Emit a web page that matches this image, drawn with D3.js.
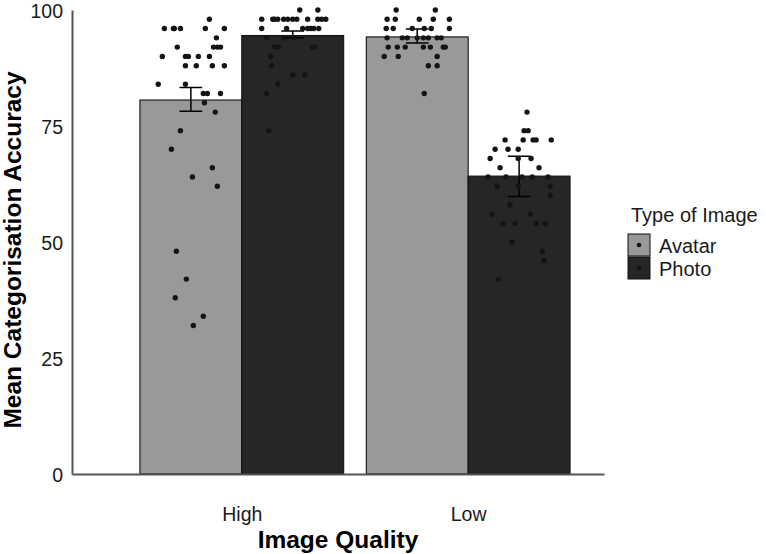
<!DOCTYPE html>
<html>
<head>
<meta charset="utf-8">
<script src="https://cdn.jsdelivr.net/npm/d3@7"></script>
<style>
  body { margin: 0; background: #fff; }
  text { font-family: "Liberation Sans", Arial, sans-serif; }
</style>
</head>
<body>
<div id="chart"></div>
<script>
// Categories
var qualities = ['High', 'Low'];
var imageTypes = ['Avatar', 'Photo'];

// Bar means and error bar limits, [quality][type]
var means = [[80.6, 94.5], [94.2, 64.2]];
var errLow = [[78.2, 94.0], [92.9, 59.8]];
var errHigh = [[83.3, 95.5], [95.9, 68.5]];

// Individual participant scores: [value, jitter offset in category units]
var highAvatar = [
  [98, 0.082], [96, -0.117], [96, -0.077], [96, -0.073], [96, -0.046], [96, 0.064], [96, 0.148],
  [94, 0.113], [92, -0.060], [92, 0.100], [92, 0.117], [92, 0.131],
  [90, -0.126], [90, -0.024], [90, -0.011], [90, 0.033], [90, 0.082],
  [88, -0.024], [88, 0.024], [88, 0.095], [88, 0.148],
  [84, -0.144], [84, -0.024], [82, 0.055], [82, 0.073], [82, 0.131],
  [80, 0.060], [78, 0.108], [74, -0.046], [70, -0.086], [66, 0.095], [64, 0.007], [62, 0.117],
  [48, -0.064], [42, -0.020], [38, -0.069], [34, 0.055], [32, 0.011]
];
var highPhoto = [
  [100, 0.031], [100, 0.111],
  [98, -0.137], [98, -0.088], [98, -0.080], [98, -0.066], [98, -0.040], [98, -0.022],
  [98, 0.000], [98, 0.018], [98, 0.066], [98, 0.111], [98, 0.128], [98, 0.146],
  [96, -0.137], [96, -0.027], [96, 0.044], [96, 0.066], [96, 0.080], [96, 0.093], [96, 0.115],
  [94, -0.115], [94, -0.040], [94, 0.004],
  [92, -0.080], [92, -0.062], [92, 0.088], [92, 0.097],
  [90, -0.097], [88, -0.093], [86, 0.000], [86, 0.053], [84, -0.066], [82, -0.115], [74, -0.106]
];
var lowAvatar = [
  [100, -0.093], [100, 0.080],
  [98, -0.133], [98, -0.097], [98, 0.009], [98, 0.071], [98, 0.142],
  [96, -0.137], [96, -0.106], [96, -0.022], [96, 0.031], [96, 0.062], [96, 0.142],
  [94, -0.133], [94, -0.066], [94, -0.044], [94, 0.000], [94, 0.027], [94, 0.049], [94, 0.088], [94, 0.106],
  [92, -0.128], [92, -0.088], [92, -0.053], [92, 0.027], [92, 0.058], [92, 0.115], [92, 0.124],
  [90, -0.146], [90, -0.084], [90, 0.088], [88, 0.049], [88, 0.088], [82, 0.031]
];
var lowPhoto = [
  [78, 0.035], [74, 0.022], [74, 0.040],
  [72, -0.062], [72, 0.018], [72, 0.062], [72, 0.075], [72, 0.142],
  [70, -0.106], [70, -0.049], [70, -0.004],
  [68, -0.128], [68, -0.004], [68, 0.053],
  [66, -0.084], [66, 0.088],
  [64, -0.137], [64, -0.058], [64, 0.013], [64, 0.058], [64, 0.128],
  [62, -0.097], [62, -0.004], [62, 0.137], [60, 0.137], [58, -0.040],
  [56, -0.119], [56, 0.049], [54, -0.071], [54, -0.018], [54, 0.075], [54, 0.115],
  [50, -0.031], [48, 0.102], [46, 0.111], [42, -0.093]
];
var points = [[highAvatar, highPhoto], [lowAvatar, lowPhoto]];

var fills = {Avatar: '#999999', Photo: '#262626'};
var yTicks = [0, 25, 50, 75, 100];

var width = 766, height = 554;
var dodge = {Avatar: -0.225, Photo: 0.225};
var barHalf = 0.225;

var svg = d3.select('#chart').append('svg')
    .attr('width', width)
    .attr('height', height);

// Scales (x in category units: High = 1, Low = 2)
var x = d3.scaleLinear().domain([0.25, 2.6]).range([72, 604]);
var y = d3.scaleLinear().domain([0, 100]).range([474, 10]);

// Flatten into rows for drawing
var bars = [];
var dots = [];
qualities.forEach((q, i) => {
  imageTypes.forEach((t, j) => {
    var pos = i + 1 + dodge[t];
    bars.push({q: q, type: t, pos: pos, mean: means[i][j], lo: errLow[i][j], hi: errHigh[i][j]});
    points[i][j].forEach(p => dots.push({type: t, value: p[0], pos: pos + p[1]}));
  });
});

// Bars
svg.append('g').attr('class', 'bars')
  .selectAll('rect')
  .data(bars)
  .enter()
  .append('rect')
    .attr('x', d => x(d.pos - barHalf))
    .attr('width', d => x(d.pos + barHalf) - x(d.pos - barHalf))
    .attr('y', d => y(d.mean))
    .attr('height', d => y(0) - y(d.mean))
    .attr('fill', d => fills[d.type])
    .attr('stroke', '#111')
    .attr('stroke-width', 1.1);

// Error bars
var capHalf = 0.05;
var gErr = svg.append('g').attr('class', 'errorbars')
    .attr('stroke', '#000')
    .attr('stroke-width', 1.5)
    .attr('fill', 'none');
gErr.selectAll('path')
  .data(bars)
  .enter()
  .append('path')
    .attr('d', d => {
      var cx = x(d.pos), l = x(d.pos - capHalf), r = x(d.pos + capHalf);
      return 'M' + l + ',' + y(d.hi) + 'H' + r +
             'M' + cx + ',' + y(d.hi) + 'V' + y(d.lo) +
             'M' + l + ',' + y(d.lo) + 'H' + r;
    });

// Jittered points
svg.append('g').attr('class', 'points')
  .selectAll('circle')
  .data(dots)
  .enter()
  .append('circle')
    .attr('cx', d => x(d.pos))
    .attr('cy', d => y(d.value))
    .attr('r', 2.7)
    .attr('fill', '#141414');

// Axes
var yAxis = d3.axisLeft(y)
    .tickValues(yTicks)
    .tickSize(0)
    .tickPadding(9);
var gY = svg.append('g')
    .attr('transform', 'translate(' + x(0.25) + ',0)')
    .call(yAxis);

var xAxis = d3.axisBottom(x)
    .tickValues([1, 2])
    .tickFormat(d => qualities[d - 1])
    .tickSize(0)
    .tickPadding(33);
var gX = svg.append('g')
    .attr('transform', 'translate(0,' + y(0) + ')')
    .call(xAxis);

[gX, gY].forEach(g => {
  g.select('.domain').attr('stroke', '#555').attr('stroke-width', 2);
  g.selectAll('text').attr('font-size', 19.5).attr('fill', '#1a1a1a')
      .attr('font-family', '"Liberation Sans", Arial, sans-serif');
});
gY.selectAll('text').attr('dy', '0.36em');

// Axis titles
svg.append('text')
    .attr('x', 338)
    .attr('y', 548)
    .attr('text-anchor', 'middle')
    .attr('font-size', 24.5)
    .attr('font-weight', 'bold')
    .text('Image Quality');

svg.append('text')
    .attr('transform', 'translate(21,250) rotate(-90)')
    .attr('text-anchor', 'middle')
    .attr('font-size', 24.5)
    .attr('font-weight', 'bold')
    .text('Mean Categorisation Accuracy');

// Legend
var legend = svg.append('g').attr('transform', 'translate(628,222)');
legend.append('text')
    .attr('x', 3)
    .attr('y', 0)
    .attr('font-size', 20)
    .attr('fill', '#1a1a1a')
    .text('Type of Image');

var keys = legend.selectAll('g.key')
  .data(imageTypes)
  .enter()
  .append('g')
    .attr('class', 'key')
    .attr('transform', (d, i) => 'translate(0,' + (12 + i * 23) + ')');
keys.append('rect')
    .attr('width', 22)
    .attr('height', 22)
    .attr('fill', d => fills[d])
    .attr('stroke', '#111')
    .attr('stroke-width', 1);
keys.append('circle')
    .attr('cx', 11)
    .attr('cy', 11)
    .attr('r', 2.3)
    .attr('fill', '#141414');
keys.append('text')
    .attr('x', 31)
    .attr('y', 18.5)
    .attr('font-size', 20)
    .attr('fill', '#1a1a1a')
    .text(d => d);
</script>
</body>
</html>
